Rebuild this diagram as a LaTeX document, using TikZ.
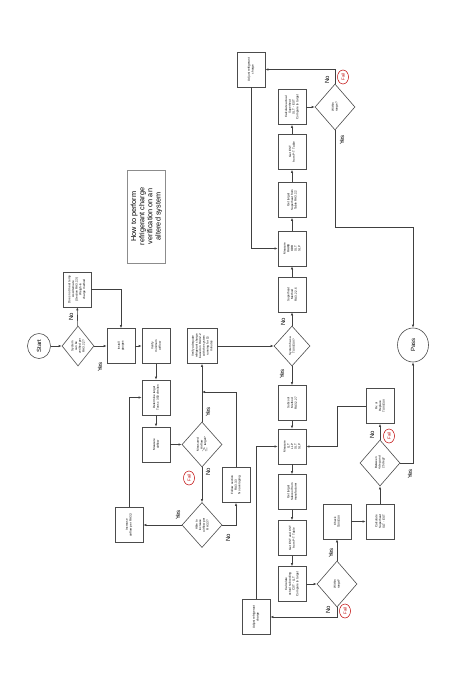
\documentclass[tikz,border=0pt]{standalone}
\usepackage{fontspec}
\setmainfont{Liberation Sans}
\usetikzlibrary{shapes.geometric,arrows.meta}
\begin{document}
\begin{tikzpicture}[x=1pt,y=-1pt,
  ln/.style={draw=black!75,line width=0.6pt},
  arr/.style={ln,-{Latex[length=3pt,width=2.4pt]}},
  box/.style={draw=black!70,line width=0.6pt,rotate=90,minimum width=35pt,minimum height=28pt,inner sep=0.5pt,text width=30pt,align=center,font=\fontsize{3}{3.7}\selectfont},
  dia/.style={draw=black!70,line width=0.6pt,diamond,rotate=90,minimum width=45pt,minimum height=40pt,inner sep=0pt,text width=20pt,align=center,font=\fontsize{3}{3.7}\selectfont},
  term/.style={draw=black!70,line width=0.6pt,ellipse,rotate=90,inner sep=0pt,font=\fontsize{6}{7}\selectfont},
  lbl/.style={rotate=90,font=\fontsize{6}{7}\selectfont,inner sep=0pt},
  fail/.style={draw=red!75!black,ellipse,rotate=90,text=red!75!black,font=\fontsize{4.3}{5}\selectfont,inner sep=0.6pt,minimum width=14pt,minimum height=11pt,line width=0.5pt}
]
\useasboundingbox[fill=white] (0,0) rectangle (457,687);

% title
\node (title) [draw=black!45,line width=0.6pt,rotate=90,minimum width=93pt,minimum height=35pt,align=center,font=\fontsize{7.3}{8.2}\selectfont] at (146.5,216.5)
  {How to perform\\ refrigerant charge\\ verification on an\\ altered system};

% left part
\node (start) [term,minimum width=25pt,minimum height=23pt] at (39,346) {Start};
\node (D1) [dia,minimum width=40pt,minimum height=32pt,text width=17pt] at (78,346) {System can be\\ verified per\\ RA3.2.2?};
\node (B0) [box] at (77,289.5) {Does not meet temp\\ As Alternate\\ (Section RA3.2.3)\\ Weigh-in charge method};
\node (B1) [box] at (121,346) {Install\\ gauges};
\node (B2) [box] at (156,346) {Verify\\ minimum\\ airflow};
\node (B3) [box] at (156,397.5) {Determine target\\ Tons x 350 cfm/ton};
\node (B4) [box] at (156,444.5) {Measure\\ airflow};
\node (D2) [dia] at (202,444.5) {Measured\\ Airflow\\ $\geq$ target?};
\node (D3) [dia] at (202,525) {Able to increase\\ airflow per RA3.3?};
\node (B5) [box] at (129,525) {Increase\\ airflow per RA3.3};
\node (B6) [box] at (236,485) {Follow section\\ RA3.3.3\\ No averaging};
\node (B7) [box,minimum height=30pt] at (202,346) {Verify adequate\\ refrigerant charge\\ based on RA3.2.2\\ with the system\\ running for 15\\ minutes};
\coordinate (j1) at (202,392);

% superheat branch
\node (D4) [dia,minimum width=40pt,minimum height=36pt] at (292,346) {System has a\\ TXV/EXV?};
\node (B8) [box] at (292,294.5) {Superheat\\ Method\\ RA3.2.2.6};
\node (B9) [box] at (292,248.5) {Measure\\ RAWB\\ ODB\\ SLT\\ SLP};
\node (B10) [box] at (292,200) {Get target\\ Superheat from\\ Table RA3.2.2};
\node (B11) [box] at (292,152) {Get EST\\ from P-T Table};
\node (B12) [box] at (292,107) {Calculate actual\\ Superheat\\ SLT - EST\\ Compare to target};
\node (D5) [dia,minimum width=46pt] at (335,107) {Within\\ range?};
\node (B13) [box] at (251,69.5) {Adjust refrigerant\\ charge};
\node (pass) [term,minimum width=34pt,minimum height=31pt] at (413,345) {Pass};
\coordinate (c1) at (413,227);

% subcool branch
\node (B14) [box] at (292,403) {Subcool\\ Method\\ RA3.2.2.7};
\node (B15) [box] at (292,446.5) {Measure\\ LLT\\ LLP\\ SLT\\ SLP};
\node (B16) [box] at (292,492) {Get target\\ Subcool from\\ manufacturer};
\node (B17) [box] at (292,538) {Get EST and CST\\ from P-T Table};
\node (B18) [box] at (292,584) {Calculate\\ actual subcooling\\ CST - LLT\\ Compare to target};
\node (D6) [dia,minimum width=46pt] at (337,584) {Within\\ range?};
\node (B19) [box] at (256,617) {Adjust refrigerant\\ charge};
\node (B20) [box] at (337,521.5) {Check\\ TXV/EXV};
\node (B21) [box] at (380,521.5) {Calculate\\ Superheat\\ SLT - EST};
\node (D7) [dia,minimum width=46pt] at (380,463) {Between\\ 4 deg and 25 deg?};
\node (B22) [box] at (380,406) {Fix or\\ Replace\\ TXV/EXV};
\coordinate (c2) at (337,406);

% connectors
\draw[arr] (start) -- (D1);
\draw[arr] (D1) -- (B1);
\draw[arr] (D1) -- (B0);
\draw[arr] (B0) -| (B1);
\draw[arr] (B1) -- (B2);
\draw[arr] (B2) -- (B3);
\draw[arr] (B3) -- (B4);
\draw[arr] (B4) -- (D2);
\draw[arr] (D2) -- (B7);
\draw[arr] (D2) -- (D3);
\draw[arr] (D3) -- (B5);
\draw[arr] (D3) -| (B6);
\draw[arr] (B6) |- (j1);
\draw[arr] (B5) |- (B3);
\draw[arr] (B7) -- (D4);
\draw[arr] (D4) -- (B8);
\draw[arr] (B8) -- (B9);
\draw[arr] (B9) -- (B10);
\draw[arr] (B10) -- (B11);
\draw[arr] (B11) -- (B12);
\draw[arr] (B12) -- (D5);
\draw[arr] (D5) |- (B13);
\draw[arr] (B13) |- (B9);
\draw[arr] (D5) |- (c1) -- (pass);
\draw[arr] (D4) -- (B14);
\draw[arr] (B14) -- (B15);
\draw[arr] (B15) -- (B16);
\draw[arr] (B16) -- (B17);
\draw[arr] (B17) -- (B18);
\draw[arr] (B18) -- (D6);
\draw[arr] (D6) |- (B19);
\draw[arr] (B19) |- (B15);
\draw[arr] (D6) -- (B20);
\draw[arr] (B20) -- (B21);
\draw[arr] (B21) -- (D7);
\draw[arr] (D7) -- (B22);
\draw[arr] (B22) -- (c2) |- (B15);
\draw[arr] (D7) -| (pass);

% labels
\node (l1) [lbl] at (71,317) {No};
\node (l2) [lbl] at (100,367) {Yes};
\node (l3) [lbl] at (208,412) {Yes};
\node (l4) [lbl] at (208,472) {No};
\node (f1) [fail] at (189,478) {Fail};
\node (l5) [lbl] at (178,515) {Yes};
\node (l6) [lbl] at (228,538) {No};
\node (l7) [lbl] at (283,322) {No};
\node (l8) [lbl] at (282,374) {Yes};
\node (l9) [lbl] at (327,80) {No};
\node (f2) [fail] at (343,77) {Fail};
\node (l10) [lbl] at (342,140) {Yes};
\node (l11) [lbl] at (331,553) {Yes};
\node (l12) [lbl] at (328,610) {No};
\node (f3) [fail] at (345,611) {Fail};
\node (l13) [lbl] at (372,435) {No};
\node (f4) [fail] at (389,436) {Fail};
\node (l14) [lbl] at (410,474) {Yes};
\end{tikzpicture}
\end{document}
